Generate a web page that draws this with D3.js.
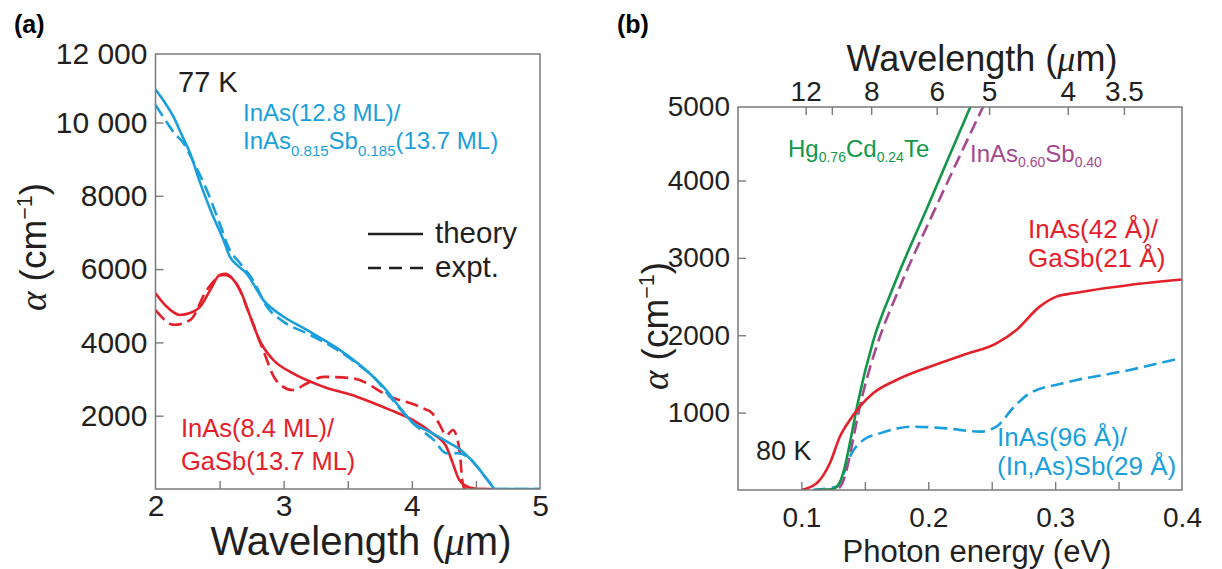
<!DOCTYPE html>
<html>
<head>
<meta charset="utf-8">
<script src="https://cdn.jsdelivr.net/npm/d3@7"></script>
<style>
body { margin: 0; background: #fff; }
</style>
</head>
<body>
<div id="chart"></div>
<script>
// (a) absorption vs wavelength, [wavelength um, alpha cm^-1]
var blueTheoryA = [[2.00,10900],[2.07,10560],[2.14,10160],[2.20,9700],[2.27,9160],[2.35,8340],[2.44,7520],[2.53,6800],[2.58,6340],[2.64,6100],[2.71,5880],[2.78,5500],[2.84,5160],[2.92,4900],[3.00,4700],[3.18,4340],[3.44,3790],[3.70,3060],[3.80,2700],[3.90,2250],[4.01,1800],[4.14,1560],[4.27,1300],[4.38,1070],[4.45,840],[4.53,520],[4.61,160],[4.65,0],[5.00,0]];
var blueExptA  = [[2.00,10480],[2.08,10050],[2.15,9700],[2.22,9430],[2.30,8900],[2.40,8160],[2.50,7250],[2.58,6520],[2.66,6160],[2.76,5700],[2.87,4970],[3.00,4560],[3.18,4250],[3.38,3880],[3.56,3450],[3.70,3060],[3.85,2430],[4.01,1790],[4.17,1340],[4.27,975],[4.36,975],[4.45,840],[4.53,520],[4.61,160],[4.65,0],[5.00,0]];
var redTheoryA = [[2.00,5340],[2.08,5000],[2.19,4750],[2.27,4800],[2.35,4980],[2.43,5450],[2.50,5840],[2.55,5870],[2.61,5700],[2.66,5430],[2.74,4700],[2.81,4070],[2.92,3520],[3.07,3160],[3.31,2790],[3.57,2520],[3.83,2160],[4.01,1880],[4.16,1520],[4.27,1150],[4.32,700],[4.37,250],[4.45,40],[4.52,0],[4.65,0]];
var redExptA   = [[2.00,4880],[2.07,4620],[2.14,4480],[2.27,4610],[2.40,5430],[2.53,5840],[2.58,5800],[2.63,5610],[2.74,4700],[2.84,3790],[2.94,2970],[3.07,2700],[3.18,2880],[3.31,3060],[3.54,3020],[3.83,2520],[4.09,2200],[4.16,2065],[4.21,1800],[4.27,1470],[4.32,1610],[4.36,1290],[4.38,790],[4.39,340],[4.41,20],[4.45,0],[4.65,0]];

// (b) absorption vs photon energy, [eV, alpha cm^-1]
var hgcdteB = [[0.110,0],[0.124,8],[0.1300,90],[0.1342,300],[0.1395,715],[0.1447,1146],[0.1565,1921],[0.1723,2620],[0.200,3680],[0.2327,4934],[0.236,5060]];
var inassbB = [[0.115,0],[0.128,10],[0.1320,80],[0.1356,260],[0.1408,660],[0.146,1077],[0.1513,1422],[0.1592,1853],[0.1775,2620],[0.205,3620],[0.2431,4950],[0.246,5050]];
var inasGasbB = [[0.100,0],[0.112,87],[0.1224,345],[0.1303,689],[0.1382,905],[0.146,1077],[0.1565,1250],[0.175,1422],[0.2012,1594],[0.2275,1745],[0.2537,1896],[0.2695,2068],[0.2878,2370],[0.301,2499],[0.314,2542],[0.3587,2650],[0.400,2720]];
var inasInassbB = [[0.109,0],[0.1277,43],[0.133,200],[0.1382,430],[0.1487,646],[0.1618,732],[0.188,818],[0.2142,797],[0.2406,754],[0.2537,818],[0.2668,1060],[0.280,1250],[0.3061,1379],[0.3587,1551],[0.398,1702]];

// ticks
var xTickMarksA = [2.5, 3, 3.5, 4, 4.5];
var xLabelsA = [2, 3, 4, 5];
var yTicksA = [2000, 4000, 6000, 8000, 10000];
var xTickMarksB = [0.1, 0.15, 0.2, 0.25, 0.3, 0.35];
var xLabelsB = [0.1, 0.2, 0.3, 0.4];
var yTicksB = [1000, 2000, 3000, 4000];
var topTickMarksB = [12, 10, 8, 6, 5, 4, 3.5];
var topLabelsB = [12, 8, 6, 5, 4, 3.5];
var hc = 1.2398; // eV*um

var width = 1222, height = 569;
var font = "'Liberation Sans', Arial, sans-serif";
var serif = "'Liberation Serif', 'Times New Roman', serif";
var textColor = "#231f20";
var axisColor = "#7a7a7a";
var blue = "#1a9fdc", red = "#e4202a", green = "#12974a", purple = "#a4488f";
var lineW = 2.6;

var svg = d3.select("#chart").append("svg")
	.attr("width", width)
	.attr("height", height)
	.style("font-family", font);

function styleAxis(g, size) {
	g.select(".domain").remove();
	g.attr("font-family", null).attr("font-size", null);
	g.selectAll(".tick line").attr("stroke", axisColor).attr("stroke-width", 1.4);
	g.selectAll("text").attr("fill", textColor).style("font-size", size + "px").style("font-family", font);
}

function frame(x, y) {
	svg.append("rect")
		.attr("x", x.range()[0]).attr("y", y.range()[1])
		.attr("width", x.range()[1] - x.range()[0])
		.attr("height", y.range()[0] - y.range()[1])
		.attr("fill", "none").attr("stroke", axisColor).attr("stroke-width", 1.5);
}

function clip(id, x, y) {
	svg.append("clipPath").attr("id", id).append("rect")
		.attr("x", x.range()[0]).attr("y", y.range()[1])
		.attr("width", x.range()[1] - x.range()[0])
		.attr("height", y.range()[0] - y.range()[1]);
}

function curve(g, data, x, y, color, dashed) {
	var line = d3.line()
		.x(function(d) { return x(d[0]); })
		.y(function(d) { return y(d[1]); })
		.curve(d3.curveMonotoneX);
	g.append("path").datum(data)
		.attr("d", line)
		.attr("fill", "none")
		.attr("stroke", color)
		.attr("stroke-width", lineW)
		.attr("stroke-linejoin", "round")
		.attr("stroke-dasharray", dashed ? "13,6" : null);
}

// add text made of parts: [string, "sub"|"sup"|null]
function richText(x, y, parts, size, color, subSize, shift) {
	var t = svg.append("text").attr("x", x).attr("y", y)
		.attr("fill", color).style("font-size", size + "px");
	var prev = 0;
	parts.forEach(function(p) {
		var off = p[1] === "sub" ? shift : (p[1] === "sup" ? -shift : 0);
		var s = t.append("tspan").text(p[0]).attr("dy", off - prev);
		if (p[1]) s.style("font-size", subSize + "px");
		prev = off;
	});
	return t;
}

function alphaTitle(cx, cy, size) {
	var t = svg.append("text")
		.attr("transform", "translate(" + cx + "," + cy + ") rotate(-90)")
		.attr("text-anchor", "middle")
		.attr("fill", textColor)
		.style("font-size", size + "px");
	t.append("tspan").text("α").style("font-family", serif).style("font-style", "italic");
	t.append("tspan").text(" (cm");
	t.append("tspan").text("−1").style("font-size", (size * 0.58) + "px").attr("dy", -size * 0.38);
	t.append("tspan").text(")").attr("dy", size * 0.38);
}

function wavelengthTitle(cx, y, size) {
	var t = svg.append("text").attr("x", cx).attr("y", y)
		.attr("text-anchor", "middle").attr("fill", textColor)
		.style("font-size", size + "px");
	t.append("tspan").text("Wavelength (");
	t.append("tspan").text("μ").style("font-family", serif).style("font-style", "italic");
	t.append("tspan").text("m)");
}

function fmtA(d) { return d >= 10000 ? d3.format(",")(d).replace(",", " ") : String(d); }

// ---------------- panel (a) ----------------
var xA = d3.scaleLinear().domain([2, 5]).range([155.5, 540]);
var yA = d3.scaleLinear().domain([0, 11870]).range([489, 54]);

clip("clipA", xA, yA);
var gA = svg.append("g").attr("clip-path", "url(#clipA)");
curve(gA, redExptA, xA, yA, red, true);
curve(gA, redTheoryA, xA, yA, red, false);
curve(gA, blueExptA, xA, yA, blue, true);
curve(gA, blueTheoryA, xA, yA, blue, false);

svg.append("g").attr("transform", "translate(0," + yA.range()[0] + ")")
	.call(d3.axisBottom(xA).tickValues(xTickMarksA).tickSize(-8).tickFormat(""))
	.call(styleAxis, 30);
svg.append("g").attr("transform", "translate(0," + yA.range()[0] + ")")
	.call(d3.axisBottom(xA).tickValues(xLabelsA).tickSize(0).tickPadding(6).tickFormat(d3.format("d")))
	.call(styleAxis, 30);
svg.append("g").attr("transform", "translate(" + xA.range()[0] + ",0)")
	.call(d3.axisLeft(yA).tickValues(yTicksA).tickSize(-8).tickPadding(8).tickFormat(fmtA))
	.call(styleAxis, 30);
svg.append("text").attr("x", xA.range()[0] - 8).attr("y", yA.range()[1]).attr("dy", "0.32em")
	.attr("text-anchor", "end").attr("fill", textColor).style("font-size", "30px").text(fmtA(12000));
frame(xA, yA);

wavelengthTitle(361, 555, 40);
alphaTitle(46, 247, 37);

svg.append("text").attr("x", 178).attr("y", 92).attr("fill", textColor).style("font-size", "29px").text("77 K");
richText(243, 121, [["InAs(12.8 ML)/", null]], 24, blue, 15, 7);
richText(243, 149, [["InAs", null], ["0.815", "sub"], ["Sb", null], ["0.185", "sub"], ["(13.7 ML)", null]], 24, blue, 15, 7);
richText(181, 437, [["InAs(8.4 ML)/", null]], 25.5, red, 16, 7);
richText(181, 470, [["GaSb(13.7 ML)", null]], 25.5, red, 16, 7);

// legend
svg.append("line").attr("x1", 368).attr("x2", 423).attr("y1", 234).attr("y2", 234)
	.attr("stroke", textColor).attr("stroke-width", 2.6);
svg.append("line").attr("x1", 368).attr("x2", 423).attr("y1", 268).attr("y2", 268)
	.attr("stroke", textColor).attr("stroke-width", 2.6).attr("stroke-dasharray", "13,8");
svg.append("text").attr("x", 435).attr("y", 243).attr("fill", textColor).style("font-size", "29.5px").text("theory");
svg.append("text").attr("x", 435).attr("y", 277).attr("fill", textColor).style("font-size", "29.5px").text("expt.");

svg.append("text").attr("x", 14).attr("y", 33).attr("fill", "#000")
	.style("font-size", "25px").style("font-weight", "bold").text("(a)");

// ---------------- panel (b) ----------------
var xB = d3.scaleLinear().domain([0.05, 0.4]).range([738, 1182]);
var yB = d3.scaleLinear().domain([0, 4950]).range([490, 107]);

clip("clipB", xB, yB);
var gB = svg.append("g").attr("clip-path", "url(#clipB)");
curve(gB, inasInassbB, xB, yB, blue, true);
curve(gB, inassbB, xB, yB, purple, true);
curve(gB, hgcdteB, xB, yB, green, false);
curve(gB, inasGasbB, xB, yB, red, false);

svg.append("g").attr("transform", "translate(0," + yB.range()[0] + ")")
	.call(d3.axisBottom(xB).tickValues(xTickMarksB).tickSize(-8).tickFormat(""))
	.call(styleAxis, 28);
svg.append("g").attr("transform", "translate(0," + yB.range()[0] + ")")
	.call(d3.axisBottom(xB).tickValues(xLabelsB).tickSize(0).tickPadding(17).tickFormat(d3.format(".1f")))
	.call(styleAxis, 28);
svg.append("g").attr("transform", "translate(0," + yB.range()[1] + ")")
	.call(d3.axisTop(xB).tickValues(topTickMarksB.map(function(l) { return hc / l; })).tickSize(-8).tickFormat(""))
	.call(styleAxis, 28);
svg.append("g").attr("transform", "translate(0," + yB.range()[1] + ")")
	.call(d3.axisTop(xB).tickValues(topLabelsB.map(function(l) { return hc / l; })).tickSize(0).tickPadding(6)
		.tickFormat(function(e) { return d3.format("~g")(+(hc / e).toFixed(2)); }))
	.call(styleAxis, 28);
svg.append("g").attr("transform", "translate(" + xB.range()[0] + ",0)")
	.call(d3.axisLeft(yB).tickValues(yTicksB).tickSize(-8).tickPadding(8).tickFormat(d3.format("d")))
	.call(styleAxis, 28);
svg.append("text").attr("x", xB.range()[0] - 8).attr("y", yB.range()[1]).attr("dy", "0.32em")
	.attr("text-anchor", "end").attr("fill", textColor).style("font-size", "28px").text("5000");
frame(xB, yB);

wavelengthTitle(982, 71, 36);
svg.append("text").attr("x", 977).attr("y", 562).attr("text-anchor", "middle").attr("fill", textColor)
	.style("font-size", "31px").text("Photon energy (eV)");
alphaTitle(668, 326, 37);

svg.append("text").attr("x", 756).attr("y", 460).attr("fill", textColor).style("font-size", "27px").text("80 K");
richText(788, 157, [["Hg", null], ["0.76", "sub"], ["Cd", null], ["0.24", "sub"], ["Te", null]], 24, green, 14, 5);
richText(970, 162, [["InAs", null], ["0.60", "sub"], ["Sb", null], ["0.40", "sub"]], 24, purple, 14, 5);
richText(1028, 238, [["InAs(42 Å)/", null]], 26, red, 16, 6);
richText(1028, 267, [["GaSb(21 Å)", null]], 26, red, 16, 6);
richText(997, 446, [["InAs(96 Å)/", null]], 26, blue, 16, 6);
richText(997, 475, [["(In,As)Sb(29 Å)", null]], 26, blue, 16, 6);

svg.append("text").attr("x", 617).attr("y", 33).attr("fill", "#000")
	.style("font-size", "25px").style("font-weight", "bold").text("(b)");
</script>
</body>
</html>
